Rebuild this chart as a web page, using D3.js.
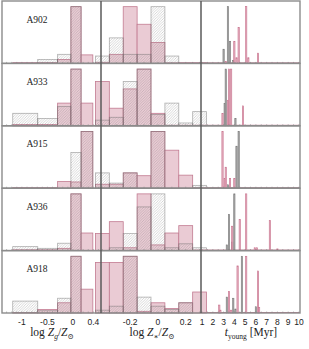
<!DOCTYPE html>
<html>
<head>
<meta charset="utf-8">
<script src="https://cdn.jsdelivr.net/npm/d3@7"></script>
<style>
body { margin: 0; background: #fff; }
</style>
</head>
<body>
<script>
var names = ["A902", "A933", "A915", "A936", "A918"];

// left column: log Zg/Zsun (uneven bins)
var gasEdges = [-1.18, -0.69, -0.3, -0.04, 0.16, 0.39];
var gasPink = [
    [0.01, 0.01, 0.07, 1.0, 0.15],
    [0.02, 0.02, 0.40, 1.0, 0.40],
    [0.01, 0.01, 0.12, 0.11, 1.0],
    [0.01, 0.01, 0.04, 1.0, 0.31],
    [0.01, 0.06, 0.18, 1.0, 0.42]
];
var gasHatch = [
    [0, 0.07, 0.16, 1.0, 0],
    [0.22, 0.13, 0.34, 1.0, 0],
    [0, 0, 0, 0.63, 1.0],
    [0.07, 0.04, 0.13, 1.0, 0],
    [0.21, 0.04, 0.26, 1.0, 0]
];

// middle column: log Z*/Zsun, bins of 0.1 dex
var starEdges = [-0.45, -0.35, -0.25, -0.15, -0.05, 0.05, 0.15, 0.25, 0.35];
var starPink = [
    [0.02, 0.16, 1.0, 0.69, 0.37, 0, 0.01, 0.01],
    [0.78, 0.31, 0.65, 1.0, 0.22, 0, 0, 0],
    [0.07, 0.07, 0.27, 0.22, 1.0, 0.67, 0.23, 0],
    [0.30, 0.51, 0.05, 1.0, 0.10, 0.31, 0.44, 0],
    [0.89, 0.89, 1.0, 0.03, 0.18, 0.08, 0.18, 0.37]
];
var starHatch = [
    [0.13, 0.45, 0.16, 0.16, 1.0, 0.13, 0, 0],
    [0.10, 0.15, 0.78, 1.0, 0.20, 0.40, 0.05, 0.25],
    [0.27, 0.09, 0.27, 0, 1.0, 0, 0, 0.05],
    [0, 0.05, 0.30, 0.77, 1.0, 0.05, 0.12, 0.05],
    [0.05, 0.12, 1.0, 0.28, 0.12, 0.06, 0.18, 0]
];

// right column: t_young [Myr], [age, height]
var ageGray = [
    [[3.0, 0.25], [3.4, 1.0], [3.6, 0.39], [3.9, 0.05]],
    [[3.1, 0.39], [3.2, 1.0], [4.1, 0.13]],
    [[3.4, 0.06], [4.2, 0.74], [4.4, 1.0]],
    [[3.3, 0.10], [3.5, 0.64], [3.8, 0.15], [4.0, 1.0]],
    [[3.3, 0.28], [3.9, 0.26], [4.1, 0.07], [4.7, 1.0], [6.0, 0.11]]
];
var agePink = [
    [[3.2, 0.03], [4.0, 0.39], [4.2, 0.10], [4.4, 0.63], [5.1, 1.0], [5.3, 0.10], [6.2, 0.18]],
    [[2.9, 0.22], [3.4, 0.45], [3.5, 1.0], [3.7, 1.0], [4.8, 0.35]],
    [[2.9, 1.0], [3.1, 0.17], [3.2, 0.37], [3.6, 0.17], [4.0, 0.17]],
    [[3.8, 0.43], [4.5, 0.55], [5.1, 1.0], [5.9, 0.05], [6.1, 0.05], [7.3, 0.53], [8.0, 0.03]],
    [[2.6, 0.14], [2.7, 0.05], [3.5, 0.38], [3.7, 0.05], [4.3, 0.83], [5.1, 1.0], [6.2, 0.74], [6.3, 0.10]]
];

var gasTicks = [-1, -0.5, 0, 0.4];
var starTicks = [-0.2, 0, 0.2];
var ageTicks = [1, 2, 3, 4, 5, 6, 7, 8, 9, 10];

var w = 309;
var h = 349;
var top0 = 1;
var rowH = 62.4;
var cols = [[2, 101], [101, 201], [201, 300]];

var svg = d3.select("body")
    .append("svg")
    .attr("width", w)
    .attr("height", h);

var defs = svg.append("defs");
defs.append("pattern")
    .attr("id", "hatch")
    .attr("patternUnits", "userSpaceOnUse")
    .attr("width", 2.6)
    .attr("height", 2.6)
    .append("path")
    .attr("d", "M-1,1 L1,-1 M0,2.6 L2.6,0 M1.6,3.6 L3.6,1.6")
    .attr("stroke", "#7a7a7a")
    .attr("stroke-opacity", 0.6)
    .attr("stroke-width", 0.5);

var xGas = d3.scaleLinear().domain([-1.39, 0.55]).range(cols[0]);
var xStar = d3.scaleLinear().domain([-0.41, 0.31]).range(cols[1]);
var xAge = d3.scaleLinear().domain([0.9, 10.1]).range(cols[2]);

function steps(g, x, y, edges, vals, fill, stroke, op) {
    vals.forEach(function (v, i) {
        if (v <= 0) return;
        g.append("rect")
            .attr("x", x(edges[i]))
            .attr("width", x(edges[i + 1]) - x(edges[i]))
            .attr("y", y(v))
            .attr("height", y(0) - y(v))
            .attr("fill", fill)
            .attr("stroke", stroke)
            .attr("stroke-opacity", op)
            .attr("stroke-width", 0.8);
    });
}

function spikes(g, x, y, pts, fill, stroke) {
    g.selectAll(null)
        .data(pts)
        .enter()
        .append("rect")
        .attr("x", function (d) { return x(d[0] - 0.06); })
        .attr("width", function (d) { return x(d[0] + 0.06) - x(d[0] - 0.06); })
        .attr("y", function (d) { return y(d[1]); })
        .attr("height", function (d) { return y(0) - y(d[1]); })
        .attr("fill", fill)
        .attr("stroke", stroke)
        .attr("stroke-width", 0.6);
}

names.forEach(function (name, r) {
    var y0 = top0 + r * rowH;
    var y = d3.scaleLinear().domain([0, 1.1]).range([y0 + rowH, y0]);
    var g = svg.append("g");

    // left
    g.append("line")
        .attr("x1", xGas(gasEdges[0])).attr("x2", xGas(gasEdges[5]))
        .attr("y1", y(0) - 0.5).attr("y2", y(0) - 0.5)
        .attr("stroke", "#c27b91").attr("stroke-width", 1);
    steps(g, xGas, y, gasEdges, gasPink[r], "#eacbd4", "#c27b91", 1);
    steps(g, xGas, y, gasEdges, gasHatch[r], "url(#hatch)", "#666", 0.5);

    // middle
    g.append("line")
        .attr("x1", cols[1][0]).attr("x2", cols[1][1])
        .attr("y1", y(0) - 0.5).attr("y2", y(0) - 0.5)
        .attr("stroke", "#c27b91").attr("stroke-width", 1);
    steps(g, xStar, y, starEdges, starPink[r], "#eacbd4", "#c27b91", 1);
    steps(g, xStar, y, starEdges, starHatch[r], "url(#hatch)", "#666", 0.5);

    // right
    g.append("line")
        .attr("x1", cols[2][0]).attr("x2", cols[2][1])
        .attr("y1", y(0) - 0.5).attr("y2", y(0) - 0.5)
        .attr("stroke", "#c27b91").attr("stroke-width", 1);
    spikes(g, xAge, y, ageGray[r], "#a8a8a8", "#7a7a7a");
    spikes(g, xAge, y, agePink[r], "#e6b2c2", "#c7708b");

    // inward ticks
    [[xGas, d3.range(-1.3, 0.56, 0.1)], [xStar, d3.range(-0.4, 0.31, 0.05)], [xAge, d3.range(1, 10.01, 0.5)]]
        .forEach(function (p) {
            g.selectAll(null)
                .data(p[1])
                .enter()
                .append("line")
                .attr("x1", function (d) { return p[0](d); })
                .attr("x2", function (d) { return p[0](d); })
                .attr("y1", y0 + rowH)
                .attr("y2", y0 + rowH - 1.5)
                .attr("stroke", "#777")
                .attr("stroke-width", 0.5);
        });

    g.append("text")
        .text(name)
        .attr("x", 37)
        .attr("y", y0 + 21.5)
        .attr("text-anchor", "middle")
        .attr("font-family", "Liberation Serif, DejaVu Serif, serif")
        .attr("font-size", "9.5px")
        .attr("fill", "#222");

    // row frame
    svg.append("rect")
        .attr("x", cols[0][0]).attr("y", y0)
        .attr("width", cols[2][1] - cols[0][0]).attr("height", rowH)
        .attr("fill", "none")
        .attr("stroke", "#8c8c8c")
        .attr("stroke-width", 1.4);
});

// column separators
[cols[1][0], cols[2][0]].forEach(function (cx) {
    svg.append("line")
        .attr("x1", cx).attr("x2", cx)
        .attr("y1", top0).attr("y2", top0 + 5 * rowH)
        .attr("stroke", "#5a5a5a")
        .attr("stroke-width", 1.5);
});

// tick labels
var yLab = top0 + 5 * rowH + 12;
function labels(x, ticks) {
    svg.selectAll(null)
        .data(ticks)
        .enter()
        .append("text")
        .text(function (d) { return String(d); })
        .attr("x", function (d) { return x(d); })
        .attr("y", yLab)
        .attr("text-anchor", "middle")
        .attr("font-family", "Liberation Sans, Arial, sans-serif")
        .attr("font-size", "8.5px")
        .attr("fill", "#222");
}
labels(xGas, gasTicks);
labels(xStar, starTicks);
labels(xAge, ageTicks);

// axis titles
var yTitle = 336;
function title(cx, parts) {
    var t = svg.append("text")
        .attr("x", cx)
        .attr("y", yTitle)
        .attr("text-anchor", "middle")
        .attr("font-family", "Liberation Serif, DejaVu Serif, serif")
        .attr("font-size", "11.5px")
        .attr("fill", "#222");
    parts.forEach(function (p) {
        var s = t.append("tspan").text(p[0]);
        if (p[1] === "i") s.attr("font-style", "italic");
        if (p[1] === "sub") s.attr("font-size", "7.5px").attr("dy", 2.5);
        if (p[1] === "isub") s.attr("font-size", "7.5px").attr("font-style", "italic").attr("dy", 2.5);
        if (p[2]) s.attr("dy", -2.5);
    });
}
title(52, [["log "], ["Z", "i"], ["g", "isub"], ["/", null, 1], ["Z", "i"], ["\u2299", "sub"]]);
title(152, [["log "], ["Z", "i"], ["\u2217", "sub"], ["/", null, 1], ["Z", "i"], ["\u2299", "sub"]]);
title(251, [["t", "i"], ["young", "sub"], [" [Myr]", null, 1]]);
</script>
</body>
</html>
